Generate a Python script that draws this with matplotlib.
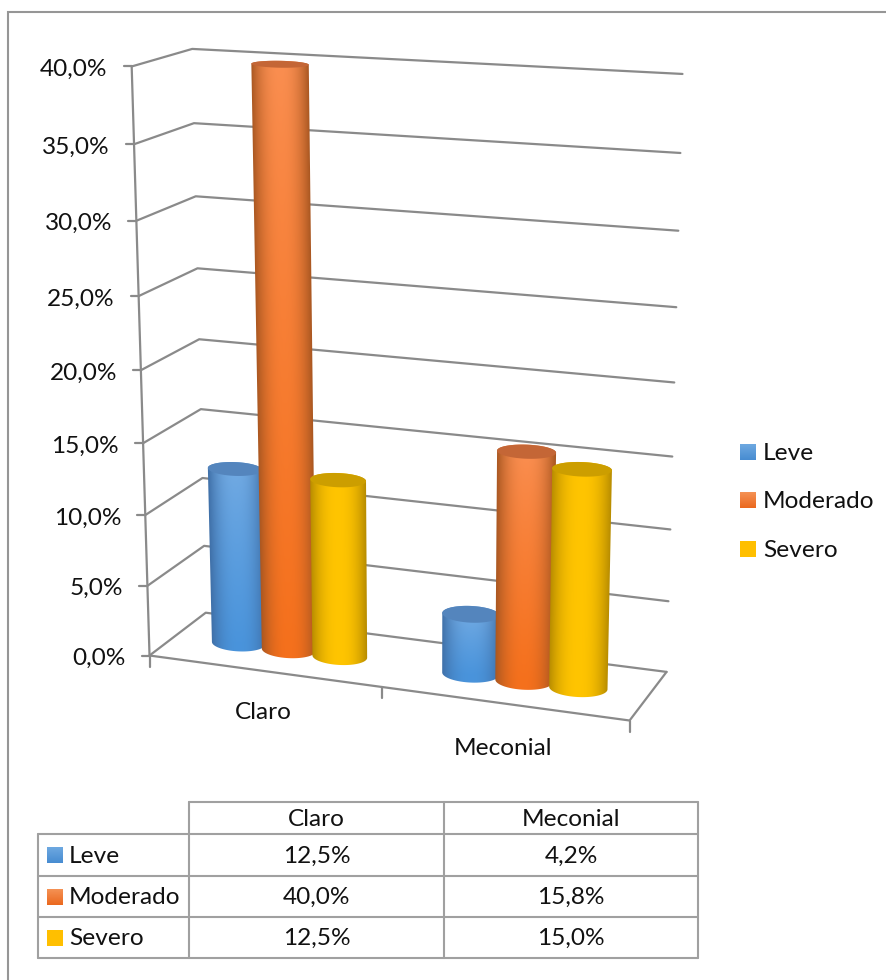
import numpy as np
import matplotlib
matplotlib.use("Agg")
import matplotlib.pyplot as plt
from matplotlib.patches import Polygon

plt.rcParams['font.family'] = ['Lato', 'DejaVu Sans']

# ---- data
categories = ['Claro', 'Meconial']
series_names = ['Leve', 'Moderado', 'Severo']
leve = [12.5, 4.2]
moderado = [40.0, 15.8]
severo = [12.5, 15.0]
value_ticks = [0, 5, 10, 15, 20, 25, 30, 35, 40]

# ---- styles
LINE = '#8a8a8a'
TLINE = '#a0a0a0'
TEXT = '#111111'
FS = 17.6
body_styles = [
    dict(edge=(0.25, 0.44, 0.66), mid_top=(0.45, 0.67, 0.89), mid_bot=(0.29, 0.58, 0.86), cap=(0.33, 0.52, 0.74)),
    dict(edge=(0.66, 0.34, 0.13), mid_top=(0.98, 0.56, 0.32), mid_bot=(0.96, 0.44, 0.11), cap=(0.77, 0.40, 0.21)),
    dict(edge=(0.72, 0.55, 0.00), mid_top=(1.00, 0.77, 0.00), mid_bot=(1.00, 0.77, 0.00), cap=(0.80, 0.62, 0.00)),
]
key_colors = [((0.43, 0.66, 0.88), (0.28, 0.55, 0.82)),
              ((0.96, 0.57, 0.33), (0.92, 0.41, 0.12)),
              ((1.00, 0.75, 0.00), (1.00, 0.75, 0.00))]

front_left_px = [(149, 657), (147, 586), (145, 514), (143, 442), (141, 369), (139, 295), (137, 220), (134.5, 145), (132, 68)]
back_left_px = [(208, 614), (205, 546), (203, 478), (201, 409), (198, 339), (196, 268), (195, 196), (193, 124), (192, 49)]
back_right_px = [(666, 670), (668, 601), (670, 530), (672, 457), (674, 382), (677, 307), (679, 231), (681, 153), (683, 74)]
front_right_floor_px = (629, 722)


def fit_camera():
    world, pix = [], []
    for v, a, b, c in zip(value_ticks, front_left_px, back_left_px, back_right_px):
        world += [(0, 0, v / 40), (0, 1, v / 40), (2, 1, v / 40)]
        pix += [a, b, c]
    world.append((2, 0, 0))
    pix.append(front_right_floor_px)
    rows = []
    for (u, d, v), (x, y) in zip(world, pix):
        x, y = x / 1000, y / 1000
        X = [u, d, v, 1]
        rows.append(X + [0, 0, 0, 0] + [-x * k for k in X])
        rows.append([0, 0, 0, 0] + X + [-y * k for k in X])
    return np.linalg.svd(np.array(rows))[2][-1].reshape(3, 4)


CAM = fit_camera()


def proj(u, d, v):
    h = CAM @ np.array([u, d, v / 40, 1.0])
    return h[:2] / h[2] * 1000


fig = plt.figure(figsize=(8.87, 9.80), dpi=100)
ax = fig.add_axes([0, 0, 1, 1])
ax.set_xlim(0, 887)
ax.set_ylim(980, 0)
ax.axis('off')
ax.set_autoscale_on(False)


def line(pts, color=LINE, lw=1.6, z=1):
    pts = np.array(pts)
    ax.plot(pts[:, 0], pts[:, 1], color=color, lw=lw, zorder=z, solid_capstyle='round', solid_joinstyle='round')


# outer frame: only the left and top edges are inside the picture
ax.plot([8.5, 8.5, 887], [980, 12.5, 12.5], color='#969696', lw=1.5, zorder=0, solid_joinstyle='miter')

# walls and gridlines
for v in value_ticks:
    line([proj(0, 0, v), proj(0, 1, v), proj(2, 1, v)])
    p = proj(0, 0, v)
    line([p, p - np.array([8, 0])])
    ax.text(p[0] - 24, p[1] + 3, f"{v:.1f}".replace('.', ',') + '%', ha='right', va='center', fontsize=FS, color=TEXT)
line([proj(0, 0, 0), proj(0, 0, 40)])
line([proj(0, 0, 0), proj(2, 0, 0), proj(2, 1, 0)])
for u in (0, 1, 2):
    p = proj(u, 0, 0)
    line([p, p + np.array([0, 11])])

# cylinders
DEPTH = 0.47
R_U = 0.118
R_D = 0.19
TILT = 0.35
CAT_OFFSET = 0.50
STEP = 0.222
series_values = [leve, moderado, severo]
theta = np.linspace(0, 2 * np.pi, 121)


def ellipse(u, v):
    c = proj(u, DEPTH, v)
    a = proj(u + R_U, DEPTH, v) - c
    b = abs(proj(u, DEPTH + R_D, v)[1] - proj(u, DEPTH - R_D, v)[1]) / 2
    pts = np.column_stack([c[0] + np.cos(theta) * a[0], c[1] + np.cos(theta) * a[1] * TILT + np.sin(theta) * b])
    return c, a, b, pts


z = 3
for ci in range(len(categories)):
    for si, vals in enumerate(series_values):
        st = body_styles[si]
        u = ci + CAT_OFFSET + (si - 1) * STEP
        v = vals[ci]
        ct, at, bt, top = ellipse(u, v)
        cb, ab, bb, bot = ellipse(u, 0)
        # outline of the body: the lower half of the base and the upper half of the top
        lower = bot[(theta >= 0) & (theta <= np.pi)]
        upper = top[(theta >= np.pi)]
        outline = np.vstack([lower, upper])
        x0, x1 = outline[:, 0].min() - 1, outline[:, 0].max() + 1
        y0, y1 = top[:, 1].min() - 1, bot[:, 1].max() + 1
        ys, xs = np.mgrid[y0:y1:complex(0, int((y1 - y0) * 2)), x0:x1:complex(0, int((x1 - x0) * 3))]
        f = np.clip((ys - ct[1]) / max(cb[1] - ct[1], 1), 0, 1)
        cx = ct[0] + (cb[0] - ct[0]) * f
        hw = at[0] + (ab[0] - at[0]) * f
        t = np.clip(np.abs(xs - cx) / hw, 0, 1)
        shade = np.clip(t ** 2.3, 0, 1)[..., None]
        edge = np.array(st['edge'])
        mt, mb = np.array(st['mid_top']), np.array(st['mid_bot'])
        vert = np.clip((ys - ct[1]) / max(cb[1] - ct[1], 1), 0, 1) ** 0.8
        vert = vert[..., None]
        mid = mt + (mb - mt) * vert
        img = mid + (edge - mid) * shade
        im = ax.imshow(img, extent=(x0, x1, y1, y0), aspect='auto', interpolation='bilinear', zorder=z)
        clip = Polygon(outline, closed=True, transform=ax.transData, fc='none', ec='none')
        ax.add_patch(clip)
        im.set_clip_path(clip)
        ax.add_patch(Polygon(top, closed=True, fc=st['cap'], ec='none', zorder=z + 0.5))
        z += 1

# category labels
cat_label_pos = [(263, 712), (503, 748)]
for name, (x, y) in zip(categories, cat_label_pos):
    ax.text(x, y, name, ha='center', va='center', fontsize=FS, color=TEXT)


def key(x, y, s, i):
    c0, c1 = map(np.array, key_colors[i])
    g = np.linspace(0, 1, 32)[:, None, None]
    ax.imshow(c0 + (c1 - c0) * g, extent=(x, x + s, y + s, y), aspect='auto', zorder=5)


# legend
legend_y = [452, 500, 549]
for i, (name, y) in enumerate(zip(series_names, legend_y)):
    key(740, y - 8, 16, i)
    ax.text(763, y + 1, name, ha='left', va='center', fontsize=FS, color=TEXT)

# data table
tx = [38, 189, 444, 698]
ty = [802, 834, 876, 917, 958]
line([(tx[1], ty[0]), (tx[3], ty[0])], TLINE, 1.5, 2)
for y in ty[1:]:
    line([(tx[0], y), (tx[3], y)], TLINE, 1.5, 2)
line([(tx[0], ty[1]), (tx[0], ty[-1])], TLINE, 1.5, 2)
for x in tx[1:]:
    line([(x, ty[0]), (x, ty[-1])], TLINE, 1.5, 2)
for j, name in enumerate(categories):
    ax.text((tx[j + 1] + tx[j + 2]) / 2, (ty[0] + ty[1]) / 2 + 1, name, ha='center', va='center', fontsize=FS, color=TEXT)
for i, (name, vals) in enumerate(zip(series_names, series_values)):
    cy = (ty[i + 1] + ty[i + 2]) / 2
    key(47, cy - 8, 16, i)
    ax.text(69, cy + 1, name, ha='left', va='center', fontsize=FS, color=TEXT)
    for j, v in enumerate(vals):
        ax.text((tx[j + 1] + tx[j + 2]) / 2, cy + 1, f"{v:.1f}".replace('.', ',') + '%', ha='center', va='center', fontsize=FS, color=TEXT)

fig.savefig('out.png', dpi=100)
